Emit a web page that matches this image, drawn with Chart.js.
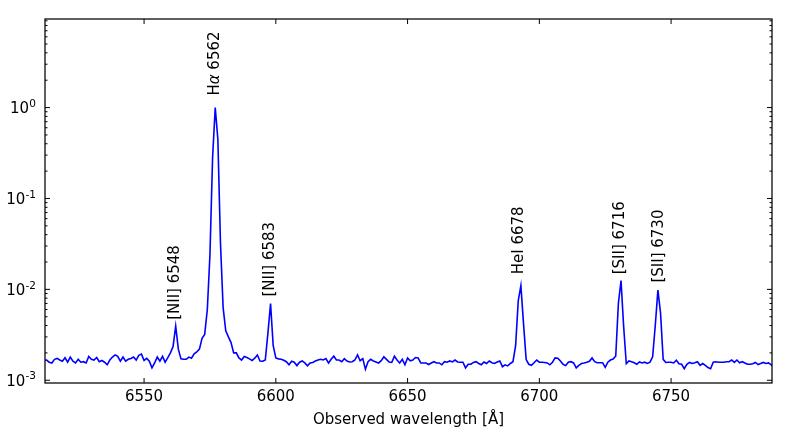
<!DOCTYPE html>
<html>
<head>
<meta charset="utf-8">
<title>Observed spectrum</title>
<script src="https://cdn.jsdelivr.net/npm/chart.js@4.4.1/dist/chart.umd.min.js"></script>
<style>
  html, body { margin: 0; padding: 0; background: #fff; }
</style>
</head>
<body>
<canvas id="spectrum" width="789" height="443"></canvas>
<script>
// spectrum sampling grid (Angstrom)
const lambdaStart = 6512;
const lambdaStep = 1;

// flux in units of 1e-3, one value per grid pixel, 6512 .. 6789
const fluxUnit = 1e-3;
const flux = [
  1.67, 1.67, 1.58, 1.55, 1.70, 1.74, 1.67, 1.62, 1.77, 1.58,
  1.80, 1.62, 1.55, 1.70, 1.58, 1.60, 1.55, 1.83, 1.70, 1.67,
  1.78, 1.60, 1.65, 1.58, 1.48, 1.67, 1.80, 1.90, 1.83, 1.62,
  1.80, 1.62, 1.70, 1.74, 1.80, 1.67, 1.88, 1.94, 1.65, 1.74,
  1.62, 1.37, 1.55, 1.80, 1.62, 1.83, 1.58, 1.77, 2.00, 2.35,
  3.95, 2.20, 1.72, 1.70, 1.70, 1.80, 1.75, 1.95, 2.05, 2.20,
  2.90, 3.20, 6.0, 24, 280, 1000, 450, 32, 6.3, 3.5,
  3.0, 2.6, 2.0, 2.0, 1.76, 1.67, 1.83, 1.78, 1.72, 1.65,
  1.75, 1.90, 1.63, 1.62, 1.67, 3.3, 7.0, 2.4, 1.76, 1.72,
  1.70, 1.66, 1.60, 1.48, 1.62, 1.58, 1.45, 1.58, 1.63, 1.55,
  1.44, 1.55, 1.57, 1.63, 1.67, 1.70, 1.67, 1.73, 1.55, 1.70,
  1.84, 1.67, 1.67, 1.60, 1.73, 1.63, 1.59, 1.60, 1.67, 1.90,
  1.64, 1.73, 1.32, 1.60, 1.70, 1.63, 1.59, 1.55, 1.64, 1.81,
  1.70, 1.59, 1.57, 1.84, 1.67, 1.55, 1.70, 1.48, 1.76, 1.64,
  1.67, 1.78, 1.76, 1.55, 1.55, 1.55, 1.49, 1.55, 1.60, 1.55,
  1.55, 1.48, 1.60, 1.58, 1.63, 1.59, 1.67, 1.59, 1.58, 1.58,
  1.37, 1.50, 1.50, 1.57, 1.60, 1.53, 1.48, 1.59, 1.53, 1.63,
  1.56, 1.53, 1.59, 1.63, 1.41, 1.48, 1.44, 1.53, 1.60, 2.4,
  7.5, 11.0, 4.2, 1.69, 1.50, 1.46, 1.56, 1.67, 1.58, 1.58,
  1.57, 1.55, 1.48, 1.58, 1.76, 1.75, 1.63, 1.50, 1.45, 1.58,
  1.60, 1.55, 1.37, 1.46, 1.53, 1.55, 1.58, 1.62, 1.76, 1.60,
  1.56, 1.56, 1.56, 1.39, 1.58, 1.67, 1.71, 1.85, 7.0, 12.5,
  3.9, 1.52, 1.63, 1.60, 1.56, 1.50, 1.59, 1.55, 1.58, 1.53,
  1.58, 1.81, 4.0, 9.8, 5.5, 1.7, 1.57, 1.58, 1.58, 1.55,
  1.66, 1.52, 1.50, 1.34, 1.50, 1.57, 1.53, 1.56, 1.60, 1.46,
  1.53, 1.46, 1.38, 1.34, 1.58, 1.60, 1.58, 1.58, 1.58, 1.60,
  1.60, 1.67, 1.57, 1.67, 1.56, 1.60, 1.55, 1.50, 1.50, 1.52,
  1.57, 1.49, 1.53, 1.57, 1.53, 1.55, 1.48, 1.42
];

// emission line labels: text, wavelength of label, flux where label starts
const lineNames = ['[NII] 6548', 'H\u03b1 6562', '[NII] 6583', 'HeI 6678', '[SII] 6716', '[SII] 6730'];
const lineLambda = [6561.85, 6577.03, 6597.72, 6692.37, 6730.71, 6745.29];
const lineLabelFlux = [0.00462, 1.355, 0.00833, 0.01466, 0.01466, 0.01188];

// axes
const xRange = [6512.4, 6788.3];
const yRange = [0.000933, 9.43];
const xTicks = [6550, 6600, 6650, 6700, 6750];
const yTicks = [1e-3, 1e-2, 1e-1, 1];
const yTickExp = ['-3', '-2', '-1', '0'];
const xTitle = 'Observed wavelength [\u00c5]';

const points = flux.map((f, i) => ({ x: lambdaStart + i * lambdaStep, y: f * fluxUnit }));

const FONT = '"DejaVu Sans", "Bitstream Vera Sans", sans-serif';

// matplotlib-like frame, inward ticks, labels and line annotations
const mplAxes = {
  id: 'mplAxes',
  afterDatasetsDraw(chart) {
    const { ctx, chartArea: a, scales: { x, y } } = chart;
    const seg = (x1, y1, x2, y2) => {
      ctx.beginPath(); ctx.moveTo(x1, y1); ctx.lineTo(x2, y2); ctx.stroke();
    };
    ctx.save();
    ctx.strokeStyle = '#000';
    ctx.fillStyle = '#000';

    // ticks
    ctx.lineWidth = 1;
    xTicks.forEach(v => {
      const px = x.getPixelForValue(v);
      seg(px, a.bottom, px, a.bottom - 5);
      seg(px, a.top, px, a.top + 5);
    });
    for (let p = -4; p <= 1; p++) {
      for (let m = 1; m <= 9; m++) {
        const v = m * Math.pow(10, p);
        if (v < yRange[0] || v > yRange[1]) continue;
        const py = y.getPixelForValue(v);
        const len = m === 1 ? 5 : 2.5;
        seg(a.left, py, a.left + len, py);
        seg(a.right, py, a.right - len, py);
      }
    }

    // frame
    ctx.lineWidth = 1.25;
    ctx.strokeRect(a.left, a.top, a.right - a.left, a.bottom - a.top);

    // x tick labels
    ctx.font = '15px ' + FONT;
    ctx.textAlign = 'center';
    ctx.textBaseline = 'alphabetic';
    xTicks.forEach(v => ctx.fillText(String(v), x.getPixelForValue(v), a.bottom + 18));

    // x title
    ctx.fillText(xTitle, (a.left + a.right) / 2, a.bottom + 41.3);

    // y tick labels 10^n
    ctx.textAlign = 'right';
    const labelRight = a.left - 9;
    yTicks.forEach((v, i) => {
      const py = y.getPixelForValue(v);
      ctx.font = '10.5px ' + FONT;
      const ew = ctx.measureText(yTickExp[i]).width;
      ctx.fillText(yTickExp[i], labelRight, py - 0.8);
      ctx.font = '15px ' + FONT;
      ctx.fillText('10', labelRight - ew - 0.3, py + 5.8);
    });

    // rotated line labels
    ctx.textAlign = 'left';
    ctx.textBaseline = 'middle';
    lineNames.forEach((name, i) => {
      const px = x.getPixelForValue(lineLambda[i]);
      const py = y.getPixelForValue(lineLabelFlux[i]);
      ctx.save();
      ctx.translate(px, py);
      ctx.rotate(-Math.PI / 2);
      let cx = 0;
      name.split(/(\u03b1)/).filter(s => s.length).forEach(part => {
        ctx.font = (part === '\u03b1' ? 'oblique 15px ' : '15px ') + FONT;
        ctx.fillText(part, cx, 0);
        cx += ctx.measureText(part).width;
      });
      ctx.restore();
    });

    ctx.restore();
  }
};

new Chart(document.getElementById('spectrum'), {
  type: 'line',
  data: {
    datasets: [{
      data: points,
      borderColor: '#0000ff',
      borderWidth: 1.6,
      pointRadius: 0,
      tension: 0,
      fill: false
    }]
  },
  options: {
    responsive: false,
    animation: false,
    devicePixelRatio: 1,
    layout: { padding: { left: 45, top: 19, right: 17, bottom: 60 } },
    plugins: { legend: { display: false }, tooltip: { enabled: false } },
    scales: {
      x: { type: 'linear', min: xRange[0], max: xRange[1], display: false },
      y: { type: 'logarithmic', min: yRange[0], max: yRange[1], display: false }
    }
  },
  plugins: [mplAxes]
});
</script>
</body>
</html>
